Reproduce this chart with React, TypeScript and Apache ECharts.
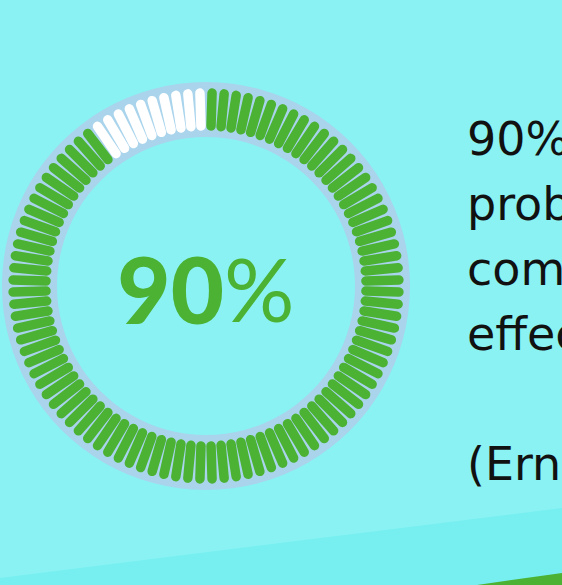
import React, { useEffect, useRef } from "react";
import * as echarts from "echarts";

const gaugeValue = [90];
const tickTotal = [100];
const quoteLines = ["90% of", "problems", "come from", "effective", "", "(Ernst, 2019)"];

const BG = "#8af2f2";
const BG2 = "#77eff1";
const GREEN = "#4cb234";
const BAND = "#a9d4ec";

export default function App() {
  const ref = useRef<HTMLDivElement>(null);
  useEffect(() => {
    if (!ref.current) return;
    const chart = echarts.init(ref.current, undefined, { renderer: "svg" });
    const value = gaugeValue[0];
    const total = tickTotal[0];
    const step = 360 / total;
    const greenCount = Math.round((value / 100) * total);
    const start = 90 - step / 2;
    const center = [206, 286];
    const tickR = 193;
    const common = {
      type: "gauge",
      center,
      clockwise: true,
      axisTick: { show: false },
      axisLabel: { show: false },
      pointer: { show: false },
      progress: { show: false },
      anchor: { show: false },
      title: { show: false },
      silent: true,
    };
    const tickLine = (color: string) => ({
      show: true,
      distance: 0,
      length: 33,
      lineStyle: { color, width: 9.5, cap: "round" },
    });
    chart.setOption({
      animation: false,
      backgroundColor: BG,
      graphic: [
        {
          type: "polygon",
          z: -1,
          shape: { points: [[0, 578], [562, 508], [562, 585], [0, 585]] },
          style: { fill: BG2 },
        },
        {
          type: "polygon",
          z: -1,
          shape: { points: [[477, 585], [562, 573], [562, 585]] },
          style: { fill: GREEN },
        },
        ...quoteLines.map((t, i) => ({
          type: "text",
          x: 467,
          y: 139 + i * 65,
          style: {
            text: t,
            fill: "#111111",
            font: "46px 'DejaVu Sans'",
            verticalAlign: "middle",
            align: "left",
          },
        })),
      ],
      series: [
        {
          ...common,
          radius: 204,
          startAngle: 90,
          endAngle: -270,
          min: 0,
          max: 100,
          axisLine: { show: true, lineStyle: { width: 55, color: [[1, BAND]] } },
          splitLine: { show: false },
          detail: { show: false },
          data: [],
        },
        {
          ...common,
          radius: tickR,
          startAngle: start,
          endAngle: start - (greenCount - 1) * step,
          min: 0,
          max: greenCount - 1,
          splitNumber: greenCount - 1,
          axisLine: { show: false, lineStyle: { width: 0 } },
          splitLine: tickLine(GREEN),
          detail: {
            show: true,
            offsetCenter: [0, 2],
            formatter: (v: number) => `{num|${v}}{pct|%}`,
            rich: {
              num: { fontFamily: "Lato", fontWeight: 900, fontSize: 92, color: GREEN },
              pct: { fontFamily: "Lato", fontWeight: "normal", fontSize: 88, color: GREEN },
            },
          },
          data: [{ value }],
        },
        {
          ...common,
          radius: tickR,
          startAngle: start - greenCount * step,
          endAngle: start - (total - 1) * step,
          min: 0,
          max: total - greenCount - 1,
          splitNumber: total - greenCount - 1,
          axisLine: { show: false, lineStyle: { width: 0 } },
          splitLine: tickLine("#ffffff"),
          detail: { show: false },
          data: [],
        },
      ],
    });
    return () => chart.dispose();
  }, []);
  return (
    <div
      ref={ref}
      style={{ position: "fixed", left: 0, top: 0, width: 562, height: 585 }}
    />
  );
}
